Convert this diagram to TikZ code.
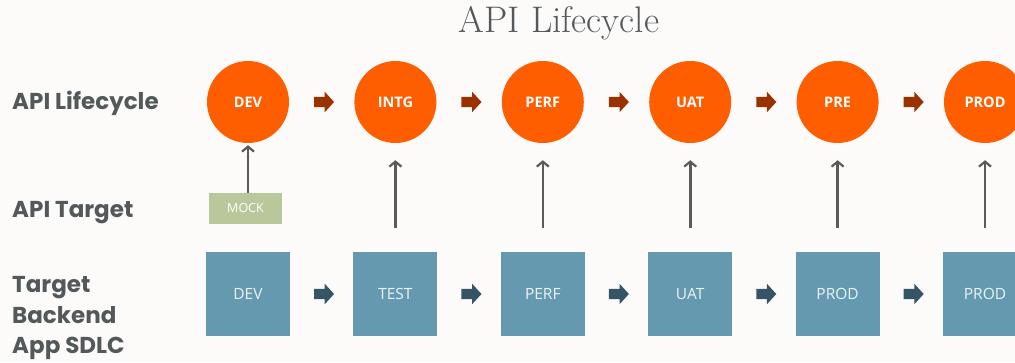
\documentclass[tikz,border=0pt]{standalone}
\usepackage{fontspec}
\setsansfont{Open Sans}
\newfontfamily\captionfont{Poppins}
\usetikzlibrary{arrows.meta,shapes.arrows,calc}
\definecolor{paper}{HTML}{FCFBF9}
\definecolor{stage}{HTML}{FF5E00}
\definecolor{stagearrow}{HTML}{9A3200}
\definecolor{backend}{HTML}{6499B0}
\definecolor{backendarrow}{HTML}{355567}
\definecolor{mock}{HTML}{B8C89B}
\definecolor{ink}{HTML}{53585B}
\definecolor{link}{HTML}{5A5A5A}
\tikzset{
  stagecircle/.style={circle, fill=stage, minimum size=82pt, inner sep=0pt,
    text=white, font=\sffamily\bfseries\fontsize{14.5}{16}\selectfont},
  envbox/.style={rectangle, fill=backend, minimum size=84pt, inner sep=0pt,
    text=white!88!backend, font=\sffamily\fontsize{15.5}{17}\selectfont},
  mockbox/.style={rectangle, fill=mock, minimum width=73pt, minimum height=31pt,
    inner sep=0pt, text=white, font=\sffamily\fontsize{12.5}{14}\selectfont},
  blockarrow/.style={single arrow, draw=none, fill=#1, inner sep=5pt,
    minimum height=20pt, single arrow head extend=5pt,
    single arrow tip angle=95},
  rowlabel/.style={anchor=base west, inner sep=0pt, text=ink,
    font=\captionfont\bfseries\fontsize{23}{28}\selectfont},
  uplink/.style={draw=link, line width=2.6pt,
    -{Straight Barb[length=5pt,width=12pt,line width=2.2pt]}},
}
\begin{document}
\begin{tikzpicture}[x=1pt,y=-1pt]
  % canvas
  \fill[paper] (0,0) rectangle (1015,362);
  \useasboundingbox (0,0) rectangle (1015,362);

  % title
  \node[text=ink, font=\fontsize{37}{40}\selectfont] (title) at (559,23) {API Lifecycle};

  % row captions
  \node[rowlabel] (lblcycle) at (12,109) {API Lifecycle};
  \node[rowlabel] (lbltarget) at (12,217) {API Target};
  \node[rowlabel] (lblbackend1) at (12,292) {Target};
  \node[rowlabel] (lblbackend2) at (12,323) {Backend};
  \node[rowlabel] (lblbackend3) at (12,353) {App SDLC};

  % lifecycle stages and backend environments
  \foreach \i/\st/\env in {0/DEV/DEV, 1/INTG/TEST, 2/PERF/PERF, 3/UAT/UAT, 4/PRE/PROD, 5/PROD/PROD} {
    \pgfmathsetmacro{\cx}{248+147.4*\i}
    \node[stagecircle] (s\i) at (\cx,102) {\st};
    \node[envbox] (e\i) at (\cx,294) {\env};
  }

  % flow arrows between neighbouring columns
  \foreach \i [evaluate=\i as \j using int(\i+1)] in {0,...,4} {
    \node[blockarrow=stagearrow] (sa\i) at ($(s\i)!0.5!(s\j)$) {};
    \node[blockarrow=backendarrow] (ea\i) at ($(e\i)!0.5!(e\j)$) {};
  }

  % API targets
  \node[mockbox] (mock) at (245.5,208.5) {MOCK};
  \draw[uplink] (mock.north -| s0) -- ([yshift=-2pt]s0.south);
  \foreach \i in {1,...,5} {
    \coordinate (t\i) at ($(e\i.north)+(0,-24)$);
    \draw[uplink] (t\i) -- ([yshift=-17pt]s\i.south);
  }
\end{tikzpicture}
\end{document}
